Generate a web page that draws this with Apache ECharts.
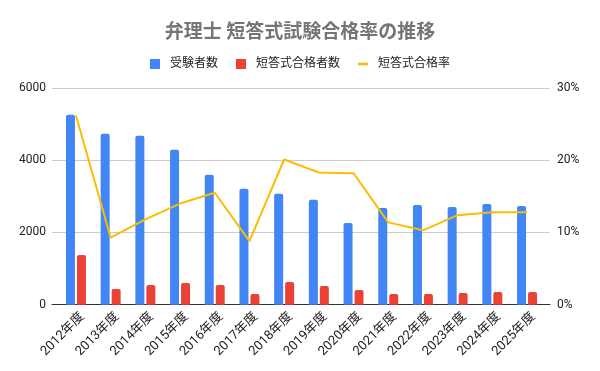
<!DOCTYPE html>
<html>
<head>
<meta charset="utf-8">
<script src="https://cdn.jsdelivr.net/npm/echarts@6/dist/echarts.min.js"></script>
<style>html,body{margin:0;padding:0;background:#fff;}#c{width:600px;height:371px;}</style>
</head>
<body>
<div id="c"></div>
<script>
const categories = ['2012年度','2013年度','2014年度','2015年度','2016年度','2017年度','2018年度','2019年度','2020年度','2021年度','2022年度','2023年度','2024年度','2025年度'];
const examinees = [5259, 4734, 4677, 4289, 3596, 3208, 3069, 2903, 2265, 2680, 2763, 2708, 2791, 2735];
const passers = [1377, 435, 546, 602, 546, 296, 629, 518, 407, 296, 296, 324, 351, 351];
const passRate = [26.2, 9.3, 11.8, 14.0, 15.5, 8.8, 20.1, 18.3, 18.2, 11.4, 10.3, 12.4, 12.8, 12.8];
const leftTicks = {min: 0, max: 6000, interval: 2000};
const rightTicks = {min: 0, max: 30, interval: 10};

const FONT = "Roboto, 'Noto Sans CJK JP', sans-serif";
const chart = echarts.init(document.getElementById('c'), null, {renderer: 'canvas'});
chart.setOption({
  animation: false,
  backgroundColor: '#fff',
  textStyle: {fontFamily: FONT},
  title: {
    text: '弁理士 短答式試験合格率の推移',
    left: 'center', top: 19,
    textStyle: {fontSize: 19, fontWeight: 'bold', color: '#757575', fontFamily: FONT}
  },
  legend: {
    top: 53, left: 'center',
    itemWidth: 10, itemHeight: 10, itemGap: 18,
    textStyle: {fontSize: 12, color: '#222', padding: [0, 0, 0, 5], fontFamily: FONT},
    data: [
      {name: '受験者数', icon: 'rect'},
      {name: '短答式合格者数', icon: 'rect'},
      {name: '短答式合格率', icon: 'path://M0,0 L11,0 L11,3 L0,3 Z'}
    ]
  },
  grid: [
    {left: 52, right: 50, top: 88, bottom: 66.3},
    {left: 58.6, right: 55.6, top: 88, bottom: 66.3},
    {left: 65, right: 49.2, top: 88, bottom: 66.3}
  ],
  xAxis: [
    {gridIndex: 0, type: 'value', min: 0, max: 1, show: true,
     axisLine: {show: true, lineStyle: {color: '#333', width: 1}},
     axisTick: {show: false}, axisLabel: {show: false}, splitLine: {show: false}},
    {gridIndex: 1, type: 'category', data: categories,
     axisLine: {show: false}, axisTick: {show: false}, axisLabel: {show: false}},
    {gridIndex: 2, type: 'category', data: categories,
     axisLine: {show: false}, axisTick: {show: false},
     axisLabel: {rotate: 45, margin: 10, fontSize: 13, color: '#222', interval: 0, fontFamily: FONT}}
  ],
  yAxis: [
    {gridIndex: 0, type: 'value', min: leftTicks.min, max: leftTicks.max, interval: leftTicks.interval,
     axisLine: {show: false}, axisTick: {show: false},
     axisLabel: {fontSize: 12, color: '#222', margin: 6, fontFamily: FONT, formatter: function (v) { return String(v); }},
     splitLine: {lineStyle: {color: '#cccccc', width: 1}}},
    {gridIndex: 0, type: 'value', position: 'right', min: rightTicks.min, max: rightTicks.max, interval: rightTicks.interval,
     axisLine: {show: false}, axisTick: {show: false},
     axisLabel: {fontSize: 12, color: '#222', margin: 7, formatter: '{value}%', fontFamily: FONT},
     splitLine: {show: false}},
    {gridIndex: 1, type: 'value', min: leftTicks.min, max: leftTicks.max, show: false, splitLine: {show: false}},
    {gridIndex: 1, type: 'value', min: rightTicks.min, max: rightTicks.max, show: false, splitLine: {show: false}},
    {gridIndex: 2, type: 'value', min: 0, max: 1, show: false, splitLine: {show: false}}
  ],
  series: [
    {name: '受験者数', type: 'bar', xAxisIndex: 1, yAxisIndex: 2, data: examinees,
     barWidth: 9, barGap: '22%', itemStyle: {color: '#4285F4', borderRadius: [2, 2, 0, 0]}},
    {name: '短答式合格者数', type: 'bar', xAxisIndex: 1, yAxisIndex: 2, data: passers,
     barWidth: 9, barGap: '22%', itemStyle: {color: '#EA4335', borderRadius: [2, 2, 0, 0]}},
    {name: '短答式合格率', type: 'line', xAxisIndex: 1, yAxisIndex: 3, data: passRate,
     symbol: 'none', lineStyle: {color: '#FBBC04', width: 2}, itemStyle: {color: '#FBBC04'}, z: 5}
  ]
});
</script>
</body>
</html>
